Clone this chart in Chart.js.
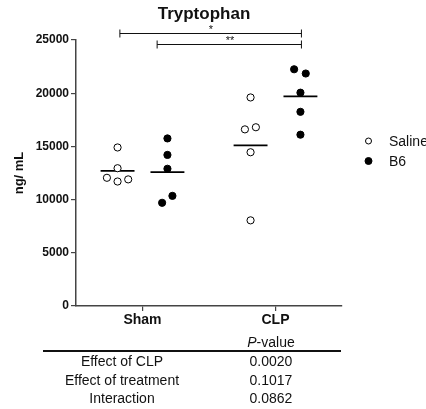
<!DOCTYPE html>
<html>
<head>
<meta charset="utf-8">
<script src="https://cdn.jsdelivr.net/npm/chart.js@4"></script>
<style>
    body { margin: 0; background: #fff; }
    #wrap { position: relative; width: 426px; height: 409px; font-family: Arial, "Liberation Sans", sans-serif; }
    #pTable { position: absolute; left: 43px; top: 333px; width: 298px; border-collapse: collapse; font-size: 14px; color: #111; }
    #pTable th { font-weight: normal; height: 17px; padding: 0; border-bottom: 2px solid #111; }
    #pTable td { padding: 0; height: 18.5px; text-align: center; line-height: 18px; }
    #pTable .name { width: 158px; }
</style>
</head>
<body>
<div id="wrap">
    <canvas id="tryptophanChart" width="426" height="409"></canvas>
    <table id="pTable">
        <thead><tr><th class="name"></th><th><i>P</i>-value</th></tr></thead>
        <tbody id="pRows"></tbody>
    </table>
</div>
<script>
// groups along the x axis
const groups = ['Sham', 'CLP'];
const groupPos = [1, 3];

// ng/mL per animal
const salineSham = [14900, 12950, 12050, 11700, 11900];
const b6Sham = [15750, 14200, 12900, 9700, 10350];
const salineClp = [19600, 16600, 16800, 14450, 8050];
const b6Clp = [22250, 21850, 20050, 18250, 16100];

// horizontal jitter of each dot inside its column
const salineShamJitter = [0, 0, -0.16, 0, 0.16];
const b6ShamJitter = [0, 0, 0, -0.08, 0.075];
const salineClpJitter = [0, -0.085, 0.08, 0, 0];
const b6ClpJitter = [-0.095, 0.08, 0, 0, 0];

const yTicks = [0, 5000, 10000, 15000, 20000, 25000];

// significance brackets: x from / to on the group axis, height in ng/mL
const sigLabels = ['*', '**'];
const sigFrom = [0.66, 1.22];
const sigTo = [3.39, 3.39];
const sigLevel = [25700, 24600];

// two-way ANOVA table
const effectNames = ['Effect of CLP', 'Effect of treatment', 'Interaction'];
const effectP = ['0.0020', '0.1017', '0.0862'];

const colOffset = 0.375;
const meanHalf = 0.255;

function toPoints(values, jitter, center) {
    return values.map((v, i) => ({ x: center + jitter[i], y: v }));
}
function mean(values) {
    return values.reduce((a, b) => a + b, 0) / values.length;
}
function meanLine(values, center) {
    let m = mean(values);
    return [{ x: center - meanHalf, y: m }, { x: center + meanHalf, y: m }];
}

const salineX = groupPos.map(p => p - colOffset);
const b6X = groupPos.map(p => p + colOffset);

let dotStyle = { type: 'scatter', pointRadius: 3.6, pointHoverRadius: 3.6, borderWidth: 1, borderColor: '#000' };
let lineStyle = { type: 'line', borderColor: '#000', borderWidth: 1.6, pointRadius: 0, fill: false };

const datasets = [
    Object.assign({ label: 'Saline', data: toPoints(salineSham, salineShamJitter, salineX[0]).concat(toPoints(salineClp, salineClpJitter, salineX[1])), backgroundColor: '#fff' }, dotStyle),
    Object.assign({ label: 'B6', data: toPoints(b6Sham, b6ShamJitter, b6X[0]).concat(toPoints(b6Clp, b6ClpJitter, b6X[1])), backgroundColor: '#000' }, dotStyle),
    Object.assign({ label: 'mean', data: meanLine(salineSham, salineX[0]) }, lineStyle),
    Object.assign({ label: 'mean', data: meanLine(b6Sham, b6X[0]) }, lineStyle),
    Object.assign({ label: 'mean', data: meanLine(salineClp, salineX[1]) }, lineStyle),
    Object.assign({ label: 'mean', data: meanLine(b6Clp, b6X[1]) }, lineStyle)
];

// title, brackets and the legend on the right
const extras = {
    id: 'extras',
    afterDraw(chart) {
        const ctx = chart.ctx;
        const xs = chart.scales.x, ys = chart.scales.y;
        ctx.save();
        ctx.fillStyle = '#111';
        ctx.textAlign = 'center';
        ctx.textBaseline = 'alphabetic';
        ctx.font = 'bold 17px Arial, "Liberation Sans", sans-serif';
        ctx.fillText('Tryptophan', 204, 19);

        ctx.strokeStyle = '#111';
        ctx.lineWidth = 1;
        for (let i = 0; i < sigLabels.length; i++) {
            let x1 = xs.getPixelForValue(sigFrom[i]);
            let x2 = xs.getPixelForValue(sigTo[i]);
            let y = Math.round(ys.getPixelForValue(sigLevel[i])) + 0.5;
            ctx.beginPath();
            ctx.moveTo(x1, y); ctx.lineTo(x2, y);
            ctx.moveTo(x1, y - 4); ctx.lineTo(x1, y + 4);
            ctx.moveTo(x2, y - 4); ctx.lineTo(x2, y + 4);
            ctx.stroke();
            ctx.font = '11px Arial, "Liberation Sans", sans-serif';
            ctx.fillText(sigLabels[i], i === 0 ? 211 : 230, y - 0.5);
        }

        let legendY = [141, 161];
        ctx.textAlign = 'left';
        ctx.textBaseline = 'middle';
        ctx.font = '14px Arial, "Liberation Sans", sans-serif';
        for (let i = 0; i < 2; i++) {
            let ds = chart.data.datasets[i];
            ctx.beginPath();
            ctx.arc(368.5, legendY[i], i === 0 ? 3 : 3.5, 0, Math.PI * 2);
            ctx.fillStyle = ds.backgroundColor;
            ctx.fill();
            ctx.lineWidth = 1;
            ctx.strokeStyle = '#000';
            ctx.stroke();
            ctx.fillStyle = '#111';
            ctx.fillText(ds.label, 389, legendY[i] + 1);
        }
        ctx.restore();
    }
};

const axisColor = '#444';
new Chart(document.getElementById('tryptophanChart'), {
    type: 'scatter',
    data: { datasets: datasets },
    options: {
        responsive: false,
        animation: false,
        layout: { padding: { left: 0, top: 40, right: 84, bottom: 73 } },
        plugins: { legend: { display: false }, tooltip: { enabled: false } },
        scales: {
            x: {
                type: 'linear', min: 0, max: 4,
                afterFit(scale) { scale.height = 30; },
                afterBuildTicks(scale) { scale.ticks = groupPos.map(v => ({ value: v })); },
                ticks: {
                    color: '#111', padding: 1,
                    font: { family: 'Arial, "Liberation Sans", sans-serif', size: 14, weight: 'bold' },
                    callback: v => groups[groupPos.indexOf(v)]
                },
                grid: { drawOnChartArea: false, drawTicks: true, tickLength: 5, color: axisColor, lineWidth: 1.2 },
                border: { color: axisColor, width: 1.5 }
            },
            y: {
                min: 0, max: 25000,
                afterFit(scale) { scale.width = 76; },
                afterBuildTicks(scale) { scale.ticks = yTicks.map(v => ({ value: v })); },
                ticks: {
                    color: '#111', padding: 2,
                    font: { family: 'Arial, "Liberation Sans", sans-serif', size: 12, weight: 'bold' },
                    callback: v => String(v)
                },
                grid: { drawOnChartArea: false, drawTicks: true, tickLength: 5, color: axisColor, lineWidth: 1.2 },
                border: { color: axisColor, width: 1.5 },
                title: {
                    display: true, text: 'ng/ mL', color: '#111',
                    padding: { top: 12, bottom: 0 },
                    font: { family: 'Arial, "Liberation Sans", sans-serif', size: 13, weight: 'bold' }
                }
            }
        }
    },
    plugins: [extras]
});

let rows = document.getElementById('pRows');
effectNames.forEach((name, i) => {
    let tr = document.createElement('tr');
    tr.innerHTML = '<td class="name">' + name + '</td><td>' + effectP[i] + '</td>';
    rows.appendChild(tr);
});
</script>
</body>
</html>
